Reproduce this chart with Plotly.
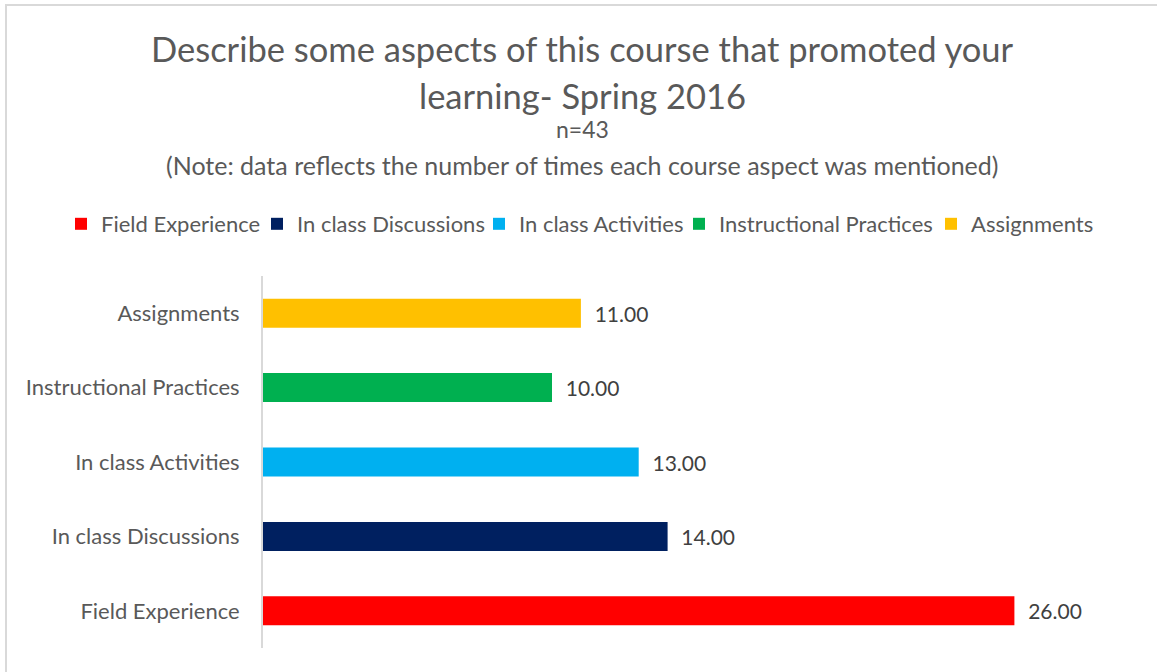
import plotly.graph_objects as go

categories = ["Field Experience", "In class Discussions", "In class Activities",
              "Instructional Practices", "Assignments"]
values = [26, 14, 13, 10, 11]
colors = ["#FF0000", "#002060", "#00B0F0", "#00B050", "#FFC000"]

title_line1 = "Describe some aspects of this course that promoted your"
title_line2 = "learning- Spring 2016"
subtitle_n = "n=43"
subtitle_note = "(Note: data reflects the number of times each course aspect was mentioned)"

W, H = 1157, 672
L, R, T, B = 263, 27, 276, 24
PW = W - L - R
PH = H - T - B

def px(x):
    return (x - L) / PW

def py(y):
    return (H - B - y) / PH

FONT = "Lato, Carlito, Calibri, sans-serif"
GRAY = "#595959"

# legend text start positions (pixels) for each entry
legend_text_x = [101, 297, 519, 719, 971]
legend_names = ["legend", "legend2", "legend3", "legend4", "legend5"]

fig = go.Figure()
for cat, val, col, lg in zip(categories, values, colors, legend_names):
    fig.add_trace(go.Bar(
        y=[cat], x=[val], orientation="h", name=cat, legend=lg,
        marker=dict(color=col, line=dict(width=0)),
        texttemplate="\u00a0\u00a0%{x:.2f}", textposition="outside",
        textfont=dict(family=FONT, size=21, color="#404040"),
        cliponaxis=False,
    ))

annos = [
    (title_line1, 49, 34.5),
    (title_line2, 96, 34.5),
    (subtitle_n, 130, 23),
    (subtitle_note, 166, 25),
]
annotations = []
for txt, yy, sz in annos:
    annotations.append(dict(
        text=txt, xref="paper", yref="paper", x=px(W / 2 + 4), y=py(yy - 1),
        xanchor="center", yanchor="middle", showarrow=False,
        font=dict(family=FONT, size=sz, color=GRAY),
    ))

layout_legends = {}
for lg, tx in zip(legend_names, legend_text_x):
    layout_legends[lg] = dict(
        orientation="h", xref="paper", yref="paper",
        x=px(tx - 40), xanchor="left", y=py(224), yanchor="middle",
        font=dict(family=FONT, size=22, color=GRAY),
        itemwidth=30, itemclick=False, bgcolor="rgba(0,0,0,0)",
    )

fig.update_layout(
    width=W, height=H,
    margin=dict(l=L, r=R, t=T, b=B, autoexpand=False),
    paper_bgcolor="white", plot_bgcolor="white",
    barmode="overlay", bargap=0.61,
    showlegend=True,
    xaxis=dict(range=[0, 30], visible=False, showgrid=False, zeroline=False),
    yaxis=dict(categoryorder="array", categoryarray=categories,
               showline=True, linecolor="#D9D9D9", linewidth=2,
               ticks="outside", ticklen=17, tickcolor="rgba(0,0,0,0)",
               showgrid=False, zeroline=False,
               tickfont=dict(family=FONT, size=22, color=GRAY)),
    annotations=annotations,
    shapes=[dict(type="rect", xref="paper", yref="paper",
                 x0=px(6), x1=px(W + 10), y0=py(H + 10), y1=py(5),
                 line=dict(color="#D9D9D9", width=2), fillcolor="rgba(0,0,0,0)",
                 layer="below")],
    **layout_legends,
)

fig.write_html("out.html", config={"displayModeBar": False},
               post_script="document.body.style.margin='0';document.body.style.overflow='hidden';")
